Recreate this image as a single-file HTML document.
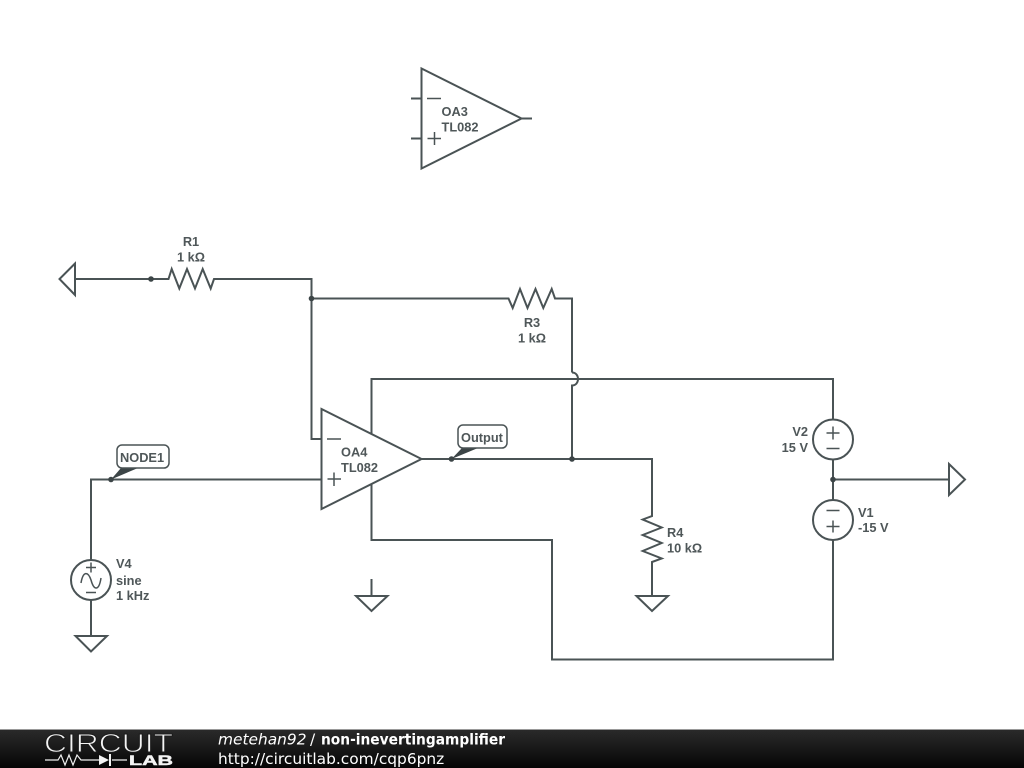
<!DOCTYPE html>
<html><head><meta charset="utf-8"><style>
html,body{margin:0;padding:0;background:#fff;width:1024px;height:768px;overflow:hidden}
svg{display:block}
.w{fill:none;stroke:#4a5355;stroke-width:2;stroke-linejoin:miter}
.s{fill:none;stroke:#4a5355;stroke-width:1.500}
.t{font:bold 12.800px "Liberation Sans",sans-serif;fill:#4f5759}
.d{fill:#3c4547}
</style></head><body>
<svg width="1024" height="768" viewBox="0 0 1024 768" xmlns="http://www.w3.org/2000/svg">
<defs><linearGradient id="g" x1="0" y1="0" x2="0" y2="1"><stop offset="0" stop-color="#2b2b2b"/><stop offset="1" stop-color="#050505"/></linearGradient></defs>
<!-- OA3 -->
<path class="w" d="M421.500 68.500V168.500L521.500 118.500ZM411 98.500H421M411 138.500H421M521 118.500H532"/>
<path class="s" d="M427 98.500H441M427.500 138.500H441M434.500 132V145"/>
<text class="t" x="441.500" y="116">OA3</text><text class="t" x="441.500" y="131.500">TL082</text>
<!-- OA4 -->
<path class="w" d="M321.500 409V509L421.500 459Z"/>
<path class="s" d="M327 439H341M327.500 479H341M334 472.500V486"/>
<text class="t" x="341" y="456.500">OA4</text><text class="t" x="341" y="472">TL082</text>
<!-- wires -->
<path class="w" d="M75 279H168.500L171.700 269L179.300 288.500L187 269L195 288.500L202.700 269L210.700 288.500L214 279H311.500V439H321"/>
<path class="w" d="M311.500 298.500H508.500L512.700 308L520 289L527.500 308L535.500 289L543.300 308L551.700 289L555 298.500H572V372.500"/>
<path class="w" d="M371.500 434V379H833V420"/>
<path class="w" d="M572 372.500C580 372.500 580 385.500 572 385.500V459"/>
<path class="w" d="M421 459H652V516L642.700 519.500L661.700 527.500L642.700 535L661.700 543L642.700 551L661.700 558.500L652 562V596"/>
<path class="w" d="M371.500 484V540H552V659.500H833V540"/>
<path class="w" d="M833 459V500M833 479.500H949"/>
<path class="w" d="M91 560V479.500H321M91 600V636"/>
<path class="w" d="M371.500 579V596"/>
<!-- grounds / ports -->
<path class="w" d="M75 263.500L59.500 279L75 295Z"/>
<path class="w" d="M949 464L965 479.500L949 495Z"/>
<path class="w" d="M75.500 636H107L91 651.500Z"/>
<path class="w" d="M356 596H387.500L371.500 611Z"/>
<path class="w" d="M636.500 596H668L652 611Z"/>
<!-- sources -->
<circle class="w" cx="833" cy="439.500" r="20" style="fill:#fff"/>
<path class="s" d="M826.500 433H839.500M833 426.500V439.500M826.500 448.500H839.500"/>
<circle class="w" cx="833" cy="520" r="20" style="fill:#fff"/>
<path class="s" d="M826.500 510.500H839.500M826.500 526.500H839.500M833 520.500V532.500"/>
<circle class="w" cx="91" cy="580" r="20" style="fill:#fff"/>
<path class="s" d="M86 567.500H96M91 562.500V572.500M86 592.500H96M81 583C83 571 88 571 91 580C94 591 99 591 101 578"/>
<!-- dots -->
<circle class="d" cx="151" cy="279" r="2.800"/><circle class="d" cx="311.500" cy="298.500" r="2.800"/>
<circle class="d" cx="572" cy="459" r="2.800"/><circle class="d" cx="833" cy="479.500" r="2.800"/>
<circle class="d" cx="451.500" cy="459" r="2.800"/><circle class="d" cx="111" cy="479.500" r="2.800"/>
<!-- flags -->
<path class="d" d="M451.500 459L462 448H478Z"/>
<rect x="458" y="425" width="49" height="23" rx="5" fill="#fff" stroke="#4a5355" stroke-width="1.500"/>
<text class="t" x="461" y="442">Output</text>
<path class="d" d="M111 479.500L121 468H138Z"/>
<rect x="117" y="445" width="52" height="23" rx="5" fill="#fff" stroke="#4a5355" stroke-width="1.500"/>
<text class="t" x="120" y="462">NODE1</text>
<!-- labels -->
<text class="t" x="191" y="246" text-anchor="middle">R1</text>
<text class="t" x="191" y="261.500" text-anchor="middle">1 kΩ</text>
<text class="t" x="532" y="327" text-anchor="middle">R3</text>
<text class="t" x="532" y="342.500" text-anchor="middle">1 kΩ</text>
<text class="t" x="667" y="537">R4</text><text class="t" x="667" y="552.500">10 kΩ</text>
<text class="t" x="808" y="436" text-anchor="end">V2</text><text class="t" x="808" y="452" text-anchor="end">15 V</text>
<text class="t" x="858" y="517">V1</text><text class="t" x="858" y="532">-15 V</text>
<text class="t" x="116" y="568">V4</text><text class="t" x="116" y="585">sine</text><text class="t" x="116" y="600">1 kHz</text>
<!-- footer -->
<rect x="0" y="729" width="1024" height="39" fill="url(#g)"/>
<rect x="0" y="729" width="1024" height="1" fill="#999"/>
<text x="44" y="752" textLength="129" lengthAdjust="spacingAndGlyphs" style="font:26px 'Liberation Sans',sans-serif;fill:#f4f4f4;stroke:#1c1c1c;stroke-width:.9">CIRCUIT</text>
<text x="129" y="765" textLength="44" lengthAdjust="spacingAndGlyphs" style="font:bold 14px 'Liberation Sans',sans-serif;fill:#f4f4f4;stroke:#f4f4f4;stroke-width:.5">LAB</text>
<path d="M45 760H58L61 755L65 765L69 755L73 765L77 755L81 760H99M112 760H127" fill="none" stroke="#f0f0f0" stroke-width="1.200"/>
<path d="M99 755V765L109 760Z" fill="#f4f4f4"/><path d="M110 754V766" stroke="#f4f4f4" stroke-width="2"/>
<text x="218" y="744.500" style="font:italic 15.400px 'DejaVu Sans',sans-serif;fill:#fff">metehan92</text>
<text x="310" y="744.500" style="font:15.400px 'DejaVu Sans',sans-serif;fill:#fff">/</text>
<text x="321" y="744.500" textLength="184" lengthAdjust="spacingAndGlyphs" style="font:bold 15px 'DejaVu Sans',sans-serif;fill:#fff">non-inevertingamplifier</text>
<text x="218" y="764" style="font:15.400px 'DejaVu Sans',sans-serif;fill:#fff">http://circuitlab.com/cqp6pnz</text>
</svg>
</body></html>
